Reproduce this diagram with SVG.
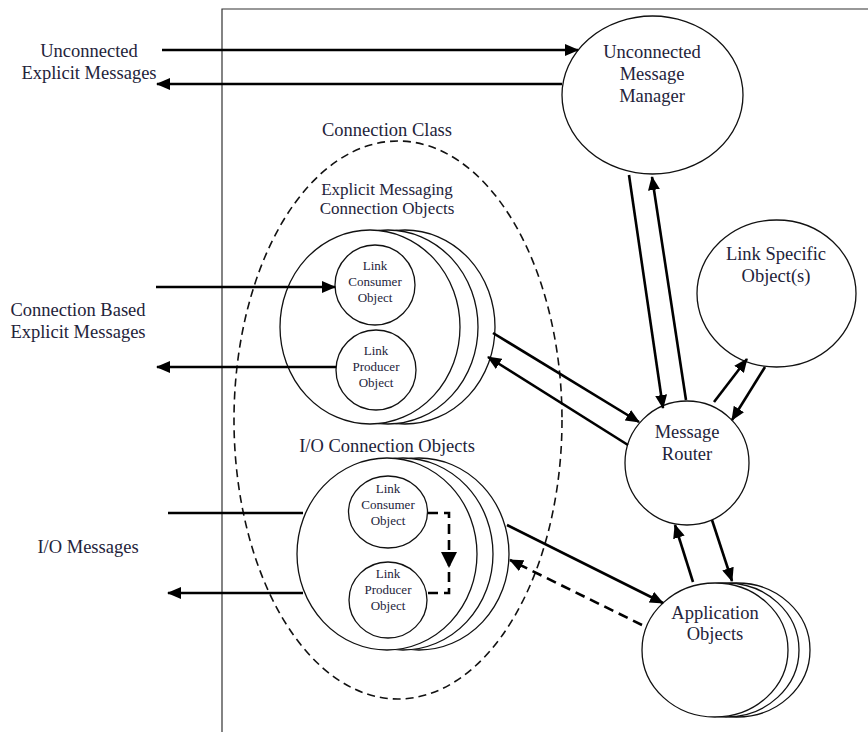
<svg xmlns="http://www.w3.org/2000/svg" width="868" height="732" viewBox="0 0 868 732">
<style>
.node{fill:#fff;stroke:#111;stroke-width:1.3}
.lbl{font-family:"Liberation Serif","Times New Roman",serif;font-size:18.5px;fill:#23233a;text-anchor:middle}
.mid{font-size:17px}
.sm{font-size:13px}
.c{stroke:#000;stroke-width:2.6;fill:none}
.dash{stroke-dasharray:10 6}
.frame{stroke:#333;stroke-width:1.2;fill:none}
</style>
<defs>
<marker id="ah" markerUnits="userSpaceOnUse" markerWidth="14" markerHeight="12" refX="13" refY="6" orient="auto">
<path d="M0,0 L14,6 L0,12 Z" fill="#000"/>
</marker>
</defs>
<rect width="868" height="732" fill="#fff"/>
<path class="frame" d="M222,732 V9 H868"/>

<g id="connection-class">
<ellipse cx="398" cy="420" rx="164" ry="279" fill="none" stroke="#111" stroke-width="1.6" stroke-dasharray="8 5"/>
<text class="lbl" x="387" y="136">Connection Class</text>
</g>

<g id="unconnected-message-manager">
<ellipse class="node" cx="652.5" cy="95" rx="90.5" ry="79"/>
<text class="lbl" x="652" y="58">Unconnected</text>
<text class="lbl" x="652" y="80">Message</text>
<text class="lbl" x="652" y="102">Manager</text>
</g>

<g id="link-specific-objects">
<ellipse class="node" cx="776.5" cy="293.5" rx="79.5" ry="73.5"/>
<text class="lbl" x="776" y="260">Link Specific</text>
<text class="lbl" x="776" y="282">Object(s)</text>
</g>

<g id="message-router">
<circle class="node" cx="687" cy="463" r="62"/>
<text class="lbl" x="687" y="438">Message</text>
<text class="lbl" x="687" y="460">Router</text>
</g>

<g id="application-objects">
<ellipse class="node" cx="737" cy="650" rx="73" ry="67"/>
<ellipse class="node" cx="726" cy="650" rx="73" ry="67"/>
<ellipse class="node" cx="715" cy="650" rx="73" ry="67"/>
<text class="lbl" x="715" y="619">Application</text>
<text class="lbl" x="715" y="640">Objects</text>
</g>

<g id="explicit-messaging-connection-objects">
<text class="lbl mid" x="387" y="195">Explicit Messaging</text>
<text class="lbl mid" x="387" y="214">Connection Objects</text>
<ellipse class="node" cx="405" cy="327" rx="90" ry="97"/>
<ellipse class="node" cx="388" cy="327" rx="90" ry="97"/>
<ellipse class="node" cx="370" cy="327" rx="90" ry="97"/>
<g id="em-link-consumer">
<circle class="node" cx="375" cy="285" r="40"/>
<text class="lbl sm" x="375" y="270">Link</text>
<text class="lbl sm" x="375" y="286">Consumer</text>
<text class="lbl sm" x="375" y="302">Object</text>
</g>
<g id="em-link-producer">
<circle class="node" cx="376" cy="370" r="40"/>
<text class="lbl sm" x="376" y="355">Link</text>
<text class="lbl sm" x="376" y="371">Producer</text>
<text class="lbl sm" x="376" y="387">Object</text>
</g>
</g>

<g id="io-connection-objects">
<text class="lbl" x="387" y="452">I/O Connection Objects</text>
<ellipse class="node" cx="419" cy="554" rx="90" ry="96"/>
<ellipse class="node" cx="403" cy="554" rx="90" ry="96"/>
<ellipse class="node" cx="387" cy="554" rx="90" ry="96"/>
<g id="io-link-consumer">
<ellipse class="node" cx="388" cy="512" rx="39.5" ry="36"/>
<text class="lbl sm" x="388" y="493">Link</text>
<text class="lbl sm" x="388" y="509">Consumer</text>
<text class="lbl sm" x="388" y="525">Object</text>
</g>
<g id="io-link-producer">
<ellipse class="node" cx="388" cy="600" rx="39" ry="38"/>
<text class="lbl sm" x="388" y="578">Link</text>
<text class="lbl sm" x="388" y="594">Producer</text>
<text class="lbl sm" x="388" y="610">Object</text>
</g>
</g>

<g id="external-labels">
<text class="lbl" x="89" y="57">Unconnected</text>
<text class="lbl" x="89" y="79">Explicit Messages</text>
<text class="lbl" x="78" y="316">Connection Based</text>
<text class="lbl" x="78" y="338">Explicit Messages</text>
<text class="lbl" x="88" y="553">I/O Messages</text>
</g>

<g id="connectors">
<line class="c" x1="162" y1="50" x2="578" y2="50" marker-end="url(#ah)"/>
<line class="c" x1="562" y1="84" x2="157" y2="84" marker-end="url(#ah)"/>
<line class="c" x1="156" y1="287" x2="335" y2="287" marker-end="url(#ah)"/>
<line class="c" x1="336" y1="367" x2="157" y2="367" marker-end="url(#ah)"/>
<line class="c" x1="168" y1="513" x2="303" y2="513"/>
<line class="c" x1="303" y1="593" x2="168" y2="593" marker-end="url(#ah)"/>
<path class="c dash" d="M428,513 H449 V593 H428" stroke-width="3"/>
<polygon points="441,552 457,552 449,568" fill="#000"/>
<line class="c" x1="629" y1="175" x2="663" y2="408" marker-end="url(#ah)"/>
<line class="c" x1="686" y1="400" x2="652" y2="177" marker-end="url(#ah)"/>
<line class="c" x1="714" y1="402" x2="747" y2="359" marker-end="url(#ah)"/>
<line class="c" x1="765" y1="367" x2="732" y2="420" marker-end="url(#ah)"/>
<line class="c" x1="493" y1="333" x2="639" y2="422" marker-end="url(#ah)"/>
<line class="c" x1="628" y1="445" x2="488" y2="357" marker-end="url(#ah)"/>
<line class="c" x1="693" y1="582" x2="675" y2="525" marker-end="url(#ah)"/>
<line class="c" x1="712" y1="520" x2="732" y2="581" marker-end="url(#ah)"/>
<line class="c" x1="507" y1="525" x2="663" y2="603" marker-end="url(#ah)"/>
<line class="c dash" x1="642" y1="625" x2="510" y2="560" marker-end="url(#ah)"/>
</g>
</svg>
